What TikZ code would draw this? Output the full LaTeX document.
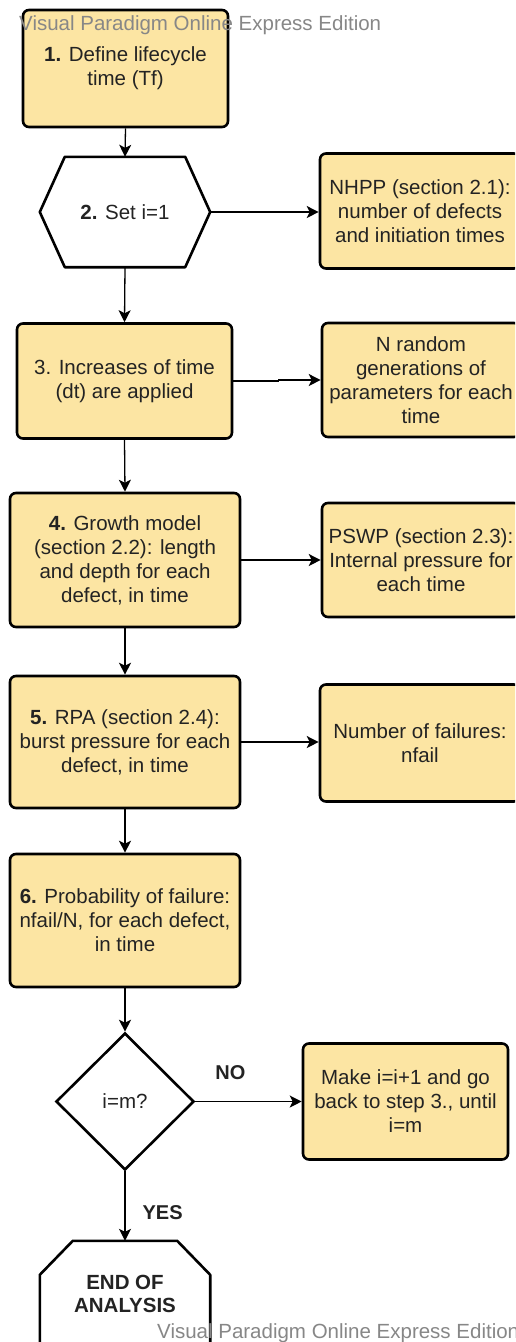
\documentclass[tikz,border=0pt]{standalone}
\usepackage{fontspec}
\setmainfont{Liberation Sans}
\usetikzlibrary{arrows.meta,shapes.geometric,calc}
\definecolor{boxfill}{RGB}{252,229,163}
\definecolor{txt}{RGB}{35,35,35}
\definecolor{wm}{RGB}{135,135,135}
\begin{document}
\begin{tikzpicture}[x=1pt,y=-1pt,
  every node/.style={font=\fontsize{20.5}{24}\selectfont, text=txt, align=center, inner sep=0pt},
  procbox/.style={draw=black, line width=2.6pt, fill=boxfill, rounded corners=6pt},
  shapeline/.style={draw=black, line width=2.6pt, line join=round},
  conn/.style={draw=black, line width=1.3pt, -{Stealth[length=12pt,width=12pt,inset=3pt]}},
  lbl/.style={font=\fontsize{20}{24}\selectfont\bfseries, text=txt},
  wmark/.style={font=\fontsize{20.5}{24}\selectfont, text=wm, anchor=base west}]
\clip (0,0) rectangle (515,1342);
\fill[white] (0,0) rectangle (515,1342);

% main column
\node[procbox, minimum width=205pt, minimum height=117pt] (b1) at (125.5,68.5) {\textbf{1.} Define lifecycle\\time (Tf)};
\node[minimum width=170pt, minimum height=110pt] (hex) at (125,212) {\textbf{2.} Set i=1};
\draw[shapeline] (hex.west) -- ($(hex.north west)+(25pt,0pt)$) -- ($(hex.north east)+(-25pt,0pt)$) -- (hex.east) -- ($(hex.south east)+(-25pt,0pt)$) -- ($(hex.south west)+(25pt,0pt)$) -- cycle;
\node[procbox, minimum width=215pt, minimum height=115pt] (b3) at (124.5,381) {3. Increases of time\\(dt) are applied};
\node[procbox, minimum width=230pt, minimum height=134pt] (b4) at (125,560) {\textbf{4.} Growth model\\(section 2.2): length\\and depth for each\\defect, in time};
\node[procbox, minimum width=230pt, minimum height=132pt] (b5) at (125,742) {\textbf{5.} RPA (section 2.4):\\burst pressure for each\\defect, in time};
\node[procbox, minimum width=230pt, minimum height=133pt] (b6) at (125,920.5) {\textbf{6.} Probability of failure:\\nfail/N, for each defect,\\in time};
\node[diamond, draw=black, line width=2.6pt, fill=white, minimum width=138pt, minimum height=137pt] (dia) at (125,1101.5) {i=m?};
\node[minimum width=170pt, minimum height=105pt, font=\fontsize{20.5}{23}\selectfont\bfseries] (endn) at (125,1293.5) {END OF\\ANALYSIS};
\draw[shapeline] ($(endn.south west)+(0pt,-20pt)$) -- ($(endn.north west)+(0pt,-34pt)$) -- ($(endn.north west)+(33pt,0pt)$) -- ($(endn.north east)+(-33pt,0pt)$) -- ($(endn.north east)+(0pt,-34pt)$) -- ($(endn.south east)+(0pt,-20pt)$);

% right column
\node[procbox, minimum width=200pt, minimum height=115pt] (nhpp) at (420,211) {NHPP (section 2.1):\\number of defects\\and initiation times};
\node[procbox, minimum width=198pt, minimum height=114pt] (nr) at (421,380) {N random\\generations of\\parameters for each\\time};
\node[procbox, minimum width=198pt, minimum height=114pt] (pswp) at (421,560) {PSWP (section 2.3):\\Internal pressure for\\each time};
\node[procbox, minimum width=200pt, minimum height=117pt] (nf) at (420,743) {Number of failures:\\nfail};
\node[procbox, minimum width=205pt, minimum height=116pt] (mk) at (405.5,1101.5) {Make i=i+1 and go\\back to step 3., until\\i=m};

% connectors
\draw[conn] (b1.south) -- (hex.north);
\draw[conn] (hex.east) -- (hex.east -| nhpp.west);
\draw[conn] (hex.south) -- (b3.north);
\draw[conn] (b3.east) -- ++(45pt,0pt) |- (nr.west);
\draw[conn] (b3.south) -- (b4.north);
\draw[conn] (b4.east) -- (b4.east -| pswp.west);
\draw[conn] (b4.south) -- (b5.north);
\draw[conn] (b5.east) -- (b5.east -| nf.west);
\draw[conn] (b5.south) -- (b6.north);
\draw[conn] (b6.south) -- (dia.north);
\draw[conn] (dia.east) -- node[lbl, pos=0.33, above=21pt] (nolbl) {NO} (dia.east -| mk.west);
\draw[conn] (dia.south) -- node[lbl, pos=0.59, right=17pt] (yeslbl) {YES} (endn.north);

% watermarks
\node[wmark] (wm1) at (19,30) {Visual Paradigm Online Express Edition};
\node[wmark] (wm2) at (157,1338) {Visual Paradigm Online Express Edition};
\end{tikzpicture}
\end{document}
